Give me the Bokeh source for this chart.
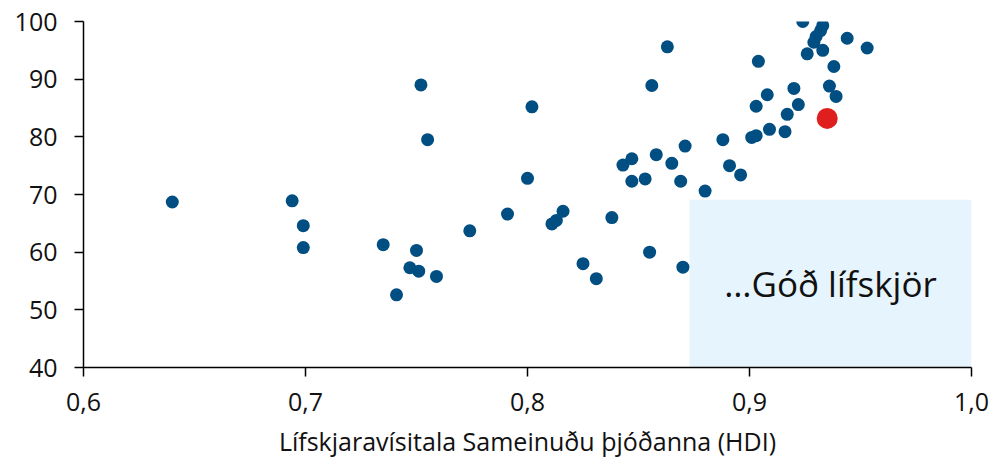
from bokeh.plotting import figure
from bokeh.models import Range1d, FixedTicker, CustomJSTickFormatter, ColumnDataSource
from bokeh.core.properties import value
from bokeh.embed import file_html
from bokeh.resources import INLINE

# --- data ---
hdi = [0.640, 0.694, 0.699, 0.699, 0.735, 0.741, 0.747, 0.750, 0.751, 0.752,
       0.755, 0.759, 0.774, 0.791, 0.800, 0.802, 0.811, 0.813, 0.816, 0.825,
       0.831, 0.838, 0.843, 0.847, 0.847, 0.853, 0.855, 0.856, 0.858, 0.863,
       0.865, 0.869, 0.870, 0.871, 0.880, 0.888, 0.891, 0.896, 0.901, 0.903,
       0.903, 0.904, 0.908, 0.909, 0.916, 0.917, 0.920, 0.922, 0.924, 0.926,
       0.929, 0.930, 0.932, 0.933, 0.933, 0.936, 0.938, 0.939, 0.944, 0.953]
score = [68.7, 68.9, 64.6, 60.8, 61.3, 52.6, 57.3, 60.3, 56.7, 89.0,
         79.5, 55.8, 63.7, 66.6, 72.8, 85.2, 64.9, 65.5, 67.1, 58.0,
         55.4, 66.0, 75.1, 76.2, 72.3, 72.7, 60.0, 88.9, 76.9, 95.6,
         75.4, 72.3, 57.4, 78.4, 70.6, 79.5, 75.0, 73.4, 79.9, 80.2,
         85.3, 93.1, 87.3, 81.3, 80.9, 83.9, 88.4, 85.6, 100.0, 94.4,
         96.4, 97.4, 98.4, 99.3, 95.0, 88.8, 92.2, 87.0, 97.1, 95.4]
iceland_hdi = [0.935]
iceland_score = [83.2]

x_ticks = [0.6, 0.7, 0.8, 0.9, 1.0]
y_ticks = [40, 50, 60, 70, 80, 90, 100]

zone_label = "\u2026Góð lífskjör"
zone_left, zone_right, zone_bottom, zone_top = 0.873, 1.0, 40, 69.1
zone_text_x, zone_text_y = 0.9365, 54.6

x_title = "Lífskjaravísitala Sameinuðu þjóðanna (HDI)"

FONT = "Open Sans"
BLUE = "#004E82"
RED = "#DF1E1E"
SHADE = "#E6F4FD"

p = figure(width=992, height=460, output_backend="svg", toolbar_location=None,
           x_range=Range1d(0.6, 1.0), y_range=Range1d(40, 100),
           min_border_left=83, min_border_right=21, min_border_top=21,
           min_border_bottom=93)
p.outline_line_color = None
p.xgrid.visible = False
p.ygrid.visible = False
p.background_fill_color = "white"
p.border_fill_color = "white"

p.quad(left=[zone_left], right=[zone_right], bottom=[zone_bottom], top=[zone_top],
       fill_color=SHADE, line_color=None)
p.text(x=[zone_text_x], y=[zone_text_y], text=[zone_label],
       text_font=value(FONT), text_font_size="35px", text_color="#111111",
       text_align="center", text_baseline="middle")

src = ColumnDataSource(dict(x=hdi, y=score))
p.scatter("x", "y", source=src, size=13, fill_color=BLUE, line_color=None)
p.scatter(iceland_hdi, iceland_score, size=21, fill_color=RED, line_color=None)

fmt = CustomJSTickFormatter(code="return tick.toFixed(1).replace('.', ',');")
p.xaxis.ticker = FixedTicker(ticks=x_ticks)
p.xaxis.formatter = fmt
p.yaxis.ticker = FixedTicker(ticks=y_ticks)

for ax in (p.xaxis[0], p.yaxis[0]):
    ax.axis_line_color = "black"
    ax.axis_line_width = 1.5
    ax.major_tick_line_color = "black"
    ax.major_tick_line_width = 1.5
    ax.major_tick_out = 9
    ax.major_tick_in = 0
    ax.minor_tick_line_color = None
    ax.major_label_text_font = FONT
    ax.major_label_text_font_size = "25px"
    ax.major_label_text_color = "#111111"

p.yaxis.major_label_standoff = 17
p.xaxis.major_label_standoff = 16
p.xaxis.axis_label = x_title
p.xaxis.axis_label_text_font = FONT
p.xaxis.axis_label_text_font_size = "25px"
p.xaxis.axis_label_text_font_style = "normal"
p.xaxis.axis_label_text_color = "#111111"
p.xaxis.axis_label_standoff = 10

open("out.html", "w").write(file_html(p, INLINE))
